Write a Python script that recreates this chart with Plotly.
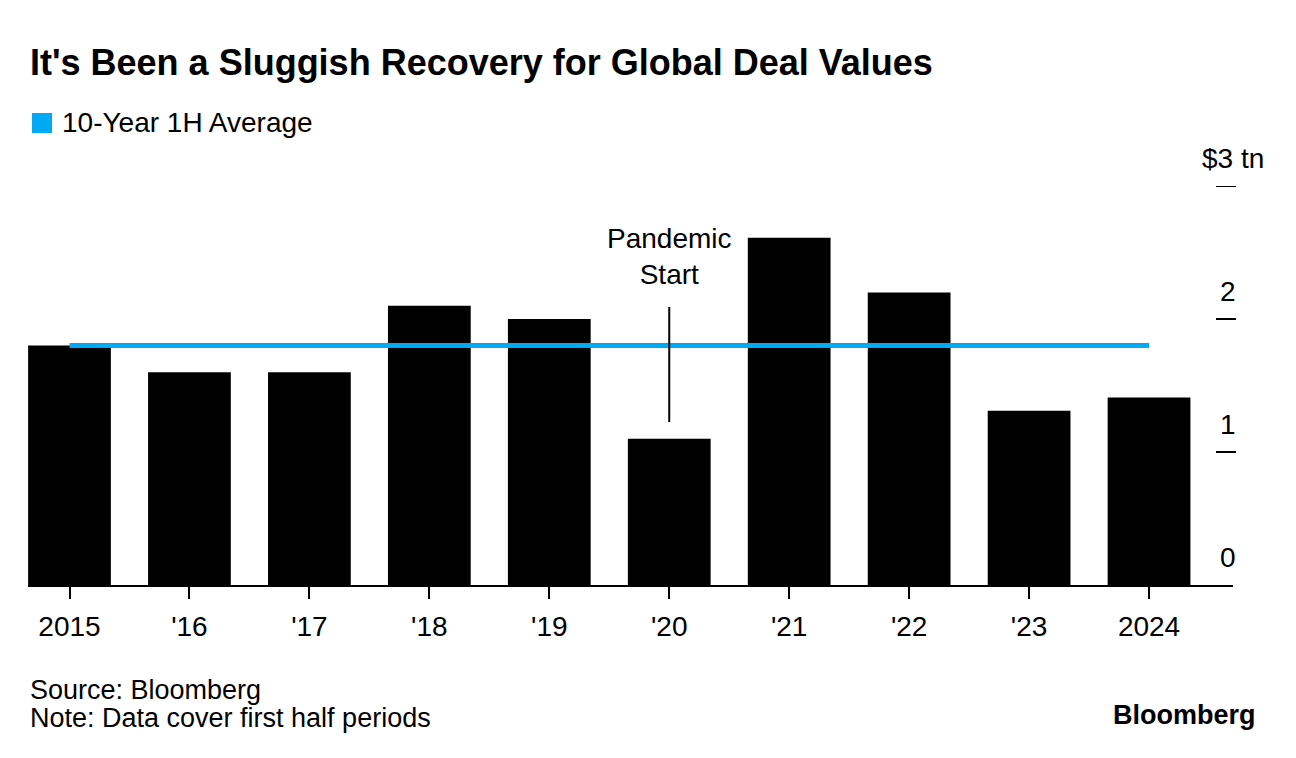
import plotly.graph_objects as go

years = ["2015", "'16", "'17", "'18", "'19", "'20", "'21", "'22", "'23", "2024"]
deal_values = [1.80, 1.60, 1.60, 2.10, 2.00, 1.10, 2.61, 2.20, 1.31, 1.41]
avg_value = 1.80
avg_series = [avg_value] * len(years)
y_ticks = [1, 2, 3]
y_tick_labels = ["1", "2", "$3 tn"]

FONT = "Liberation Sans"
BLUE = "#00A9F4"

OFF = 8  # page body offset
W, H = 1296 - OFF, 758 - OFF
# page-pixel targets
PL, PR, PT, PB = 28, 1233, 186, 585
L = PL - OFF
T = PT - OFF
R = W - (PR - OFF)
B = H - (PB - OFF)
plot_h = PB - PT
plot_w = PR - PL

def py(p):
    return (PB - p) / plot_h

def px(p):
    return (p - PL) / plot_w

fig = go.Figure()
fig.add_trace(go.Bar(x=years, y=deal_values, marker=dict(color="black", line=dict(width=0)),
                     showlegend=False, hoverinfo="x+y"))
fig.add_trace(go.Scatter(x=years, y=avg_series, mode="lines",
                         line=dict(color=BLUE, width=5), showlegend=False))

shapes = []
annotations = []

# y tick marks and labels
for v, lab in zip(y_ticks, y_tick_labels):
    shapes.append(dict(type="line", xref="paper", yref="y", x0=px(1216), x1=px(1236), y0=v, y1=v,
                       line=dict(color="black", width=2)))
    if lab.startswith("$"):
        annotations.append(dict(xref="paper", yref="y", x=px(1200), y=v, yshift=28, xanchor="left",
                                yanchor="middle", text=lab, showarrow=False,
                                font=dict(family=FONT, size=28, color="black")))
    else:
        annotations.append(dict(xref="paper", yref="y", x=px(1238), y=v, yshift=28, xanchor="right",
                                yanchor="middle", text=lab, showarrow=False,
                                font=dict(family=FONT, size=28, color="black")))
annotations.append(dict(xref="paper", yref="y", x=px(1238), y=0, yshift=28, xanchor="right",
                        yanchor="middle", text="0", showarrow=False,
                        font=dict(family=FONT, size=28, color="black")))

# Pandemic annotation
pi = years.index("'20")
shapes.append(dict(type="line", xref="x", yref="y", x0=pi, x1=pi, y0=1.225, y1=2.09,
                   line=dict(color="black", width=2)))
annotations.append(dict(xref="x", yref="y", x=pi, y=2.47, text="Pandemic<br>Start", showarrow=False,
                        xanchor="center", yanchor="middle",
                        font=dict(family=FONT, size=28, color="black")))

# Title
annotations.append(dict(xref="paper", yref="paper", x=0, y=py(62), xanchor="left", yanchor="middle",
                        text="<b>It's Been a Sluggish Recovery for Global Deal Values</b>", showarrow=False,
                        font=dict(family=FONT, size=36, color="black")))
# Legend
shapes.append(dict(type="rect", xref="paper", yref="paper", x0=px(32), x1=px(52), y0=py(133), y1=py(113),
                   fillcolor=BLUE, line=dict(width=0)))
annotations.append(dict(xref="paper", yref="paper", x=px(60), y=py(123), xanchor="left", yanchor="middle",
                        text="10-Year 1H Average", showarrow=False,
                        font=dict(family=FONT, size=28, color="black")))
# Source / note
annotations.append(dict(xref="paper", yref="paper", x=0, y=py(690), xanchor="left", yanchor="middle",
                        text="Source: Bloomberg", showarrow=False,
                        font=dict(family=FONT, size=27, color="black")))
annotations.append(dict(xref="paper", yref="paper", x=0, y=py(718), xanchor="left", yanchor="middle",
                        text="Note: Data cover first half periods", showarrow=False,
                        font=dict(family=FONT, size=27, color="black")))
annotations.append(dict(xref="paper", yref="paper", x=px(1258), y=py(715), xanchor="right", yanchor="middle",
                        text="<b>Bloomberg</b>", showarrow=False,
                        font=dict(family=FONT, size=27, color="black")))

fig.update_layout(
    width=W, height=H,
    margin=dict(l=L, r=R, t=T, b=B, pad=0),
    plot_bgcolor="white", paper_bgcolor="white",
    bargap=0.31,
    shapes=shapes, annotations=annotations,
    xaxis=dict(type="category", range=[-0.346, 9.7], showgrid=False, zeroline=False,
               showline=True, linecolor="black", linewidth=2,
               ticks="outside", ticklen=12, tickwidth=2, tickcolor="black",
               ticklabelstandoff=3,
               tickfont=dict(family=FONT, size=28, color="black"), fixedrange=True),
    yaxis=dict(range=[0, 3], showgrid=False, zeroline=False, showticklabels=False,
               showline=False, fixedrange=True),
)

fig.write_html("out.html")
